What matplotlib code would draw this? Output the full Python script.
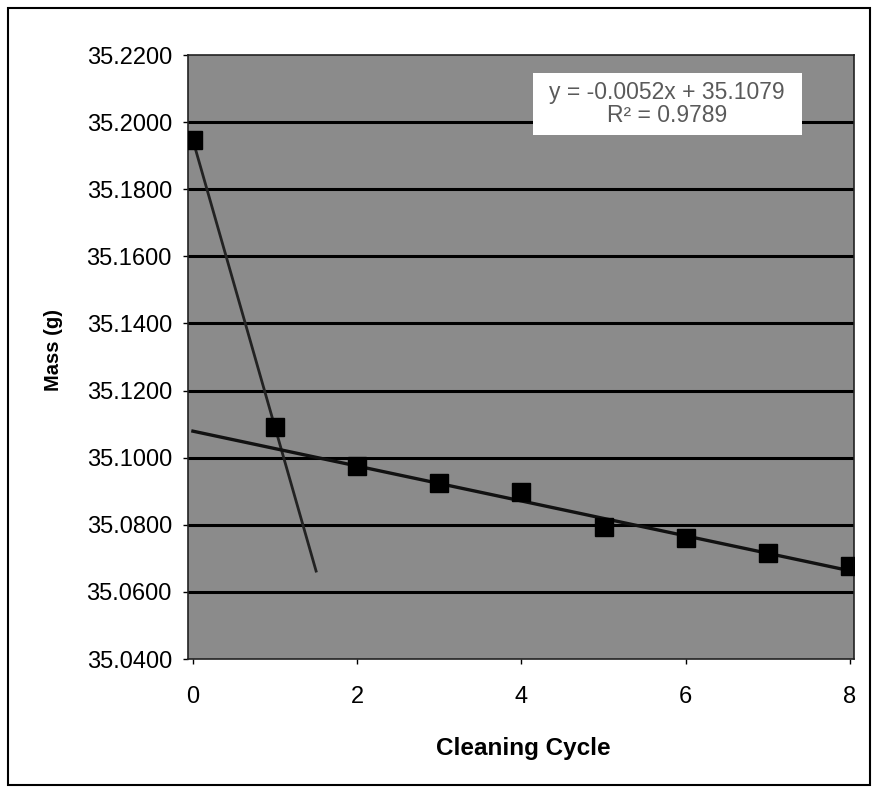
import matplotlib
matplotlib.use("Agg")
import matplotlib.pyplot as plt
from matplotlib.patches import Rectangle
import numpy as np

# Data
cycles = [0, 1, 2, 3, 4, 5, 6, 7, 8]
mass = [35.1946, 35.1090, 35.0974, 35.0925, 35.0897, 35.0792, 35.0762, 35.0715, 35.0677]
trend_slope = -0.0052
trend_intercept = 35.1079
r_squared = 0.9789
x_ticks = [0, 2, 4, 6, 8]
y_ticks = [35.04, 35.06, 35.08, 35.10, 35.12, 35.14, 35.16, 35.18, 35.20, 35.22]

plt.rcParams['font.family'] = ['Liberation Sans', 'DejaVu Sans']

W, H = 878, 791
fig = plt.figure(figsize=(W / 100, H / 100), dpi=100)
fig.patch.set_facecolor('white')

left, right, top, bottom = 188, 854, 55, 659
ax = fig.add_axes([left / W, 1 - bottom / H, (right - left) / W, (bottom - top) / H])
ax.set_facecolor('#8b8b8b')

ax.set_xlim(-0.06, 8.05)
ax.set_ylim(35.04, 35.22)

for yv in y_ticks[1:-1]:
    ax.axhline(yv, color='black', lw=2.2, zorder=1)

# steep line through first two points
x_steep = np.array([0, 1.5])
s = (mass[1] - mass[0]) / (cycles[1] - cycles[0])
ax.plot(x_steep, mass[0] + s * x_steep, color='#222222', lw=2, zorder=2)

# linear trendline
xt = np.array([0, 8])
ax.plot(xt, trend_slope * xt + trend_intercept, color='#111111', lw=2.4, zorder=2)

ax.plot(cycles, mass, linestyle='none', marker='s', ms=12.5, color='black', zorder=3)

ax.set_xticks(x_ticks)
ax.set_xticklabels([str(v) for v in x_ticks])
ax.set_yticks(y_ticks)
ax.set_yticklabels([f"{v:.4f}" for v in y_ticks])
ax.tick_params(axis='both', labelsize=17, length=3.6, width=1, color='black', direction='out')
ax.tick_params(axis='x', pad=16)
ax.tick_params(axis='y', pad=8)

for sp in ax.spines.values():
    sp.set_color('#222222')
    sp.set_linewidth(1.2)

ax.set_xlabel('Cleaning Cycle', fontsize=17.5, fontweight='bold')
ax.xaxis.set_label_coords((523 - left) / (right - left), (bottom - 737) / (bottom - top))
ax.set_ylabel('Mass (g)', fontsize=14.5, fontweight='bold')
ax.yaxis.set_label_coords((63 - left) / (right - left), (bottom - 350) / (bottom - top))

# equation box
bx0, bx1, by0, by1 = 533, 802, 73, 135
ax.add_patch(Rectangle(((bx0 - left) / (right - left), (bottom - by1) / (bottom - top)),
                       (bx1 - bx0) / (right - left), (by1 - by0) / (bottom - top),
                       transform=ax.transAxes, facecolor='white', edgecolor='none', zorder=4))
ax.text((667 - left) / (right - left), (bottom - 104) / (bottom - top),
        f"y = {trend_slope:.4f}x + {trend_intercept:.4f}\nR\u00b2 = {r_squared:.4f}",
        transform=ax.transAxes, ha='center', va='center', fontsize=16.5,
        color='#5a5a5a', linespacing=1.0, zorder=5)

# outer border
fig.patches.append(Rectangle((8 / W, 1 - 785 / H), 862 / W, 777 / H,
                             transform=fig.transFigure, fill=False,
                             edgecolor='black', lw=1.5))

fig.savefig('out.png', dpi=100, facecolor='white')
